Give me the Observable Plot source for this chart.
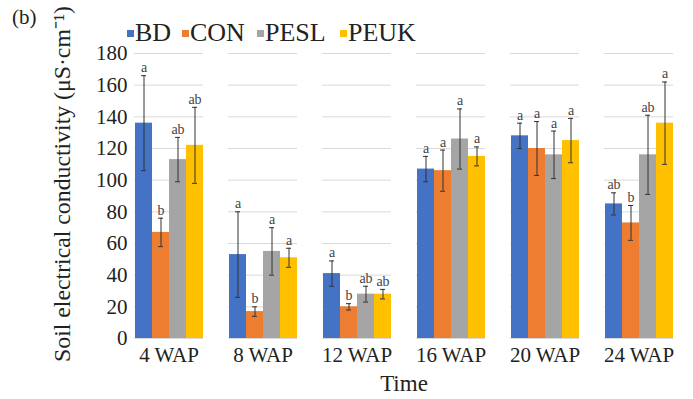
<!DOCTYPE html>
<html>
<head>
<meta charset="utf-8">
<script src="https://cdn.jsdelivr.net/npm/d3@7"></script>
<script src="https://cdn.jsdelivr.net/npm/@observablehq/plot@0.6"></script>
<style>
  body { margin: 0; background: #fff; font-family: "Liberation Serif", "Times New Roman", serif; }
  #wrap { width: 693px; height: 399px; position: relative; overflow: hidden; }
  #header { position: absolute; left: 0; top: 0; width: 693px; height: 45px; z-index: 2; }
  #tag { position: absolute; left: 12px; top: 5px; font-size: 21px; line-height: 24px; color: #222; font-family: "Liberation Serif", serif; }
  .sw { position: absolute; top: 30px; width: 7px; height: 7px; }
  .lab { position: absolute; top: 18px; font-size: 26px; line-height: 30px; color: #222; font-family: "Liberation Serif", serif; }
  #chart { position: absolute; left: 0; top: 0; }
</style>
</head>
<body>
<div id="wrap">
  <div id="chart"></div>
  <div id="header"><div id="tag">(b)</div></div>
</div>
<script>
const categories = ["4 WAP", "8 WAP", "12 WAP", "16 WAP", "20 WAP", "24 WAP"];
const series = ["BD", "CON", "PESL", "PEUK"];
const colors = ["#4472C4", "#ED7D31", "#A5A5A5", "#FFC000"];

const BD   = [136, 53, 41, 107, 128, 85];
const CON  = [67, 17, 20, 106, 120, 73];
const PESL = [113, 55, 28, 126, 116, 116];
const PEUK = [122, 51, 28, 115, 125, 136];

const BD_err   = [30, 27, 8, 8, 8, 7];
const CON_err  = [9, 3, 2, 13, 17, 11];
const PESL_err = [14, 15, 5, 19, 15, 25];
const PEUK_err = [24, 6, 3, 6, 14, 26];

const BD_sig   = ["a", "a", "a", "a", "a", "ab"];
const CON_sig  = ["b", "b", "b", "a", "a", "b"];
const PESL_sig = ["ab", "a", "ab", "a", "a", "ab"];
const PEUK_sig = ["ab", "a", "ab", "a", "a", "a"];

const yTicks = [0, 20, 40, 60, 80, 100, 120, 140, 160, 180];

const valuesBySeries = [BD, CON, PESL, PEUK];
const errBySeries = [BD_err, CON_err, PESL_err, PEUK_err];
const sigBySeries = [BD_sig, CON_sig, PESL_sig, PEUK_sig];

const data = [];
categories.forEach((c, i) => {
  series.forEach((s, j) => {
    data.push({time: c, series: s, value: valuesBySeries[j][i], err: errBySeries[j][i], sig: sigBySeries[j][i]});
  });
});

// legend (layout offsets only)
const header = document.getElementById("header");
const legendX = [127, 182, 257, 340];
series.forEach((s, j) => {
  const sw = document.createElement("div"); sw.className = "sw";
  sw.style.left = legendX[j] + "px"; sw.style.background = colors[j];
  const lab = document.createElement("div"); lab.className = "lab";
  lab.style.left = (legendX[j] + 8) + "px"; lab.textContent = s;
  header.appendChild(sw); header.appendChild(lab);
});

const font = "Liberation Serif";
const chart = Plot.plot({
  width: 693,
  height: 399,
  marginTop: 53,
  marginBottom: 61,
  marginLeft: 121,
  marginRight: 8,
  style: {fontFamily: "'Liberation Serif', serif", background: "#fff", color: "#222"},
  fx: {domain: categories, paddingInner: 0.266, paddingOuter: 0.133, label: null},
  x: {domain: series, padding: 0, axis: null},
  y: {domain: [0, 180], label: null},
  color: {domain: series, range: colors},
  marks: [
    Plot.gridY(yTicks, {stroke: "#d9d9d9", strokeOpacity: 1, strokeWidth: 1}),
    Plot.axisY(yTicks, {tickSize: 0, tickPadding: 7, fontSize: 21, label: null, fill: "#222", fontFamily: font}),
    Plot.axisFx({anchor: "bottom", tickSize: 0, tickPadding: 9, fontSize: 21, label: null, fill: "#222", fontFamily: font}),
    Plot.barY(data, {fx: "time", x: "series", y: "value", fill: "series"}),
    Plot.ruleX(data, {fx: "time", x: "series", y1: d => d.value - d.err, y2: d => d.value + d.err, stroke: "#333", strokeWidth: 1}),
    Plot.tickY(data, {fx: "time", x: "series", y: d => d.value + d.err, stroke: "#333", strokeWidth: 1, insetLeft: 6, insetRight: 6}),
    Plot.tickY(data, {fx: "time", x: "series", y: d => d.value - d.err, stroke: "#333", strokeWidth: 1, insetLeft: 6, insetRight: 6}),
    Plot.text(data, {fx: "time", x: "series", y: d => d.value + d.err, text: "sig", dy: -8, fontSize: 14, fill: "#444", fontFamily: font})
  ]
});
document.getElementById("chart").appendChild(chart);

// axis titles
const svg = d3.select(chart);
const yl = svg.append("text")
  .attr("transform", `translate(62,184) rotate(-90)`)
  .attr("text-anchor", "middle").attr("dominant-baseline", "central")
  .attr("font-family", font).attr("font-size", 24).attr("fill", "#222")
  .text("Soil electrical conductivity (μS·cm⁻¹)");
const len = yl.node().getComputedTextLength();
if (len > 0) {
  const fs = Math.max(18, Math.min(28, 24 * 356 / len));
  yl.attr("font-size", fs);
}
svg.append("text")
  .attr("x", 404).attr("y", 383)
  .attr("text-anchor", "middle").attr("dominant-baseline", "central")
  .attr("font-family", font).attr("font-size", 23).attr("fill", "#222")
  .text("Time");
</script>
</body>
</html>
